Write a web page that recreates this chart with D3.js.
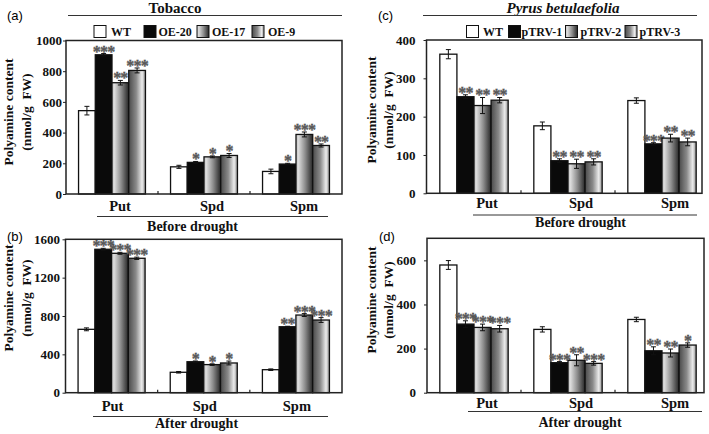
<!DOCTYPE html>
<html>
<head>
<meta charset="utf-8">
<script src="https://cdn.jsdelivr.net/npm/d3@7"></script>
<style>
  html, body { margin: 0; padding: 0; background: #fff; }
  svg { display: block; }
  text { font-family: "Liberation Serif", "Times New Roman", serif; }
</style>
</head>
<body>
<svg id="chart" width="709" height="434"></svg>
<script>
// ---------------- DATA ----------------
const categories = ["Put", "Spd", "Spm"];
const seriesTobacco = ["WT", "OE-20", "OE-17", "OE-9"];
const seriesPyrus = ["WT", "pTRV-1", "pTRV-2", "pTRV-3"];

// (a) Tobacco, before drought  [category][series]
const valuesA = [[543, 907, 725, 805], [177, 206, 242, 251], [147, 195, 388, 316]];
const errorsA = [[28, 8, 15, 16], [10, 6, 6, 13], [15, 5, 16, 10]];
const starsA  = [["", "***", "**", "***"], ["", "*", "*", "*"], ["", "*", "***", "**"]];

// (b) Tobacco, after drought
const valuesB = [[661, 1496, 1454, 1402], [213, 323, 293, 310], [240, 688, 810, 758]];
const errorsB = [[15, 10, 10, 12], [8, 8, 8, 20], [8, 5, 15, 25]];
const starsB  = [["", "***", "***", "***"], ["", "*", "*", "*"], ["", "**", "***", "***"]];

// (c) Pyrus betulaefolia, before drought
const valuesC = [[363, 252, 229, 243], [176, 85, 77, 82], [242, 129, 144, 134]];
const errorsC = [[12, 5, 21, 7], [10, 5, 12, 8], [7, 3, 10, 10]];
const starsC  = [["", "**", "**", "**"], ["", "**", "**", "**"], ["", "***", "**", "**"]];

// (d) Pyrus betulaefolia, after drought
const valuesD = [[579, 311, 296, 290], [287, 136, 147, 133], [332, 190, 180, 216]];
const errorsD = [[20, 15, 15, 15], [12, 5, 25, 8], [10, 18, 18, 10]];
const starsD  = [["", "***", "***", "***"], ["", "***", "**", "***"], ["", "**", "**", "*"]];

const ticksA = [0, 200, 400, 600, 800, 1000];
const ticksB = [0, 400, 800, 1200, 1600];
const ticksC = [0, 100, 200, 300, 400];
const ticksD = [0, 200, 400, 600];

const yAxisTitle1 = "Polyamine content";
const yAxisTitle2 = "(nmol/g\u00A0\u00A0FW)";

// ---------------- DRAWING ----------------
const svg = d3.select("#chart");
const defs = svg.append("defs");

const g1 = defs.append("linearGradient").attr("id", "gradSlope");
[[0, "#c4c4c4"], [0.15, "#dcdcdc"], [0.55, "#8c8c8c"], [1, "#262626"]]
  .forEach(([o, c]) => g1.append("stop").attr("offset", o).attr("stop-color", c));
const g2 = defs.append("linearGradient").attr("id", "gradCyl");
[[0, "#4a4a4a"], [0.45, "#8a8a8a"], [0.8, "#ececec"], [1, "#8e8e8e"]]
  .forEach(([o, c]) => g2.append("stop").attr("offset", o).attr("stop-color", c));

const fills = ["#ffffff", "#0a0a0a", "url(#gradSlope)", "url(#gradCyl)"];

const panels = [
  { letter: "(a)", lx: 7, ly: 20, values: valuesA, errors: errorsA, stars: starsA, ticks: ticksA, yMax: 1000,
    left: 66, right: 342, top: 40.5, bottom: 194, band: [66, 342], tickGap: 4,
    titleX1: 8, titleX2: 26, titleY: 112,
    catOffset: 8, catY: 211, lineX: [97, 328], lineY: 216.5, groupTitle: "Before drought", gtX: 192.5, gtY: 231 },
  { letter: "(b)", lx: 7, ly: 241, values: valuesB, errors: errorsB, stars: starsB, ticks: ticksB, yMax: 1600,
    left: 65.5, right: 342, top: 239.3, bottom: 392.7, band: [65.5, 342], tickGap: 5.5,
    titleX1: 8, titleX2: 26, titleY: 298,
    catOffset: 1, catY: 411, lineX: [93, 328], lineY: 416.5, groupTitle: "After drought", gtX: 196.5, gtY: 428 },
  { letter: "(c)", lx: 378, ly: 20, values: valuesC, errors: errorsC, stars: starsC, ticks: ticksC, yMax: 400,
    left: 426.5, right: 702, top: 40, bottom: 193.3, band: [427, 709], tickGap: 11,
    titleX1: 371, titleX2: 388, titleY: 110,
    catOffset: 13, catY: 208, lineX: [473, 697], lineY: 215, groupTitle: "Before drought", gtX: 580.5, gtY: 227 },
  { letter: "(d)", lx: 379, ly: 241, values: valuesD, errors: errorsD, stars: starsD, ticks: ticksD, yMax: 700,
    left: 427, right: 704, top: 238.3, bottom: 392.7, band: [427, 709], tickGap: 11,
    titleX1: 371, titleX2: 388, titleY: 300,
    catOffset: 13, catY: 408, lineX: [468, 702], lineY: 411.5, groupTitle: "After drought", gtX: 580, gtY: 426.5 }
];

panels.forEach((p, pi) => {
  const series = pi < 2 ? seriesTobacco : seriesPyrus;
  const g = svg.append("g");
  const y = d3.scaleLinear().domain([0, p.yMax]).range([p.bottom, p.top]);
  const x0 = d3.scaleBand().domain(categories).range(p.band).paddingInner(0).paddingOuter(0);
  const x1 = d3.scaleBand().domain(series).range([0, x0.bandwidth()]).paddingInner(0).paddingOuter(0.75);

  // panel letter
  g.append("text").attr("x", p.lx).attr("y", p.ly)
    .style("font-family", "'Liberation Sans', Arial, sans-serif").style("font-size", "13px")
    .text(p.letter);

  // y axis
  const ax = g.append("g").attr("transform", `translate(${p.left},0)`)
    .call(d3.axisLeft(y).tickValues(p.ticks).tickSize(3).tickPadding(p.tickGap - 3).tickFormat(d3.format("d")));
  ax.select(".domain").remove();
  ax.selectAll(".tick line").attr("stroke", "#222").attr("stroke-width", 1);
  ax.selectAll(".tick text").style("font-family", "'Liberation Serif', serif")
    .style("font-size", "13px").style("font-weight", "bold").attr("fill", "#111");

  // y axis titles
  [[p.titleX1, yAxisTitle1], [p.titleX2, yAxisTitle2]].forEach(([tx, t]) => {
    g.append("text").attr("transform", `translate(${tx},${p.titleY}) rotate(-90)`)
      .attr("text-anchor", "middle").attr("dominant-baseline", "central")
      .style("font-size", "13.5px").style("font-weight", "bold").attr("fill", "#111")
      .text(t);
  });

  // bars
  categories.forEach((cat, ci) => {
    const gx = x0(cat);
    series.forEach((s, si) => {
      const v = p.values[ci][si], e = p.errors[ci][si];
      const bx = gx + x1(s), bw = x1.bandwidth();
      g.append("rect").attr("x", bx).attr("y", y(v)).attr("width", bw).attr("height", y(0) - y(v))
        .attr("fill", fills[si]).attr("stroke", "#111").attr("stroke-width", 1.3);
      const cx = bx + bw / 2;
      g.append("line").attr("x1", cx).attr("x2", cx).attr("y1", y(v - e)).attr("y2", y(v + e))
        .attr("stroke", "#111").attr("stroke-width", 1);
      [v - e, v + e].forEach(val => {
        g.append("line").attr("x1", cx - 2.5).attr("x2", cx + 2.5).attr("y1", y(val)).attr("y2", y(val))
          .attr("stroke", "#111").attr("stroke-width", 1);
      });
      const st = p.stars[ci][si];
      if (st) {
        g.append("text").attr("x", cx).attr("y", y(v + e) + 3)
          .attr("text-anchor", "middle")
          .style("font-size", "16px").style("font-weight", "bold").style("letter-spacing", "-0.8px")
          .attr("fill", "#6a6a6a").attr("stroke", "#333").attr("stroke-width", 0.3)
          .text(st);
      }
    });
  });

  // box
  g.append("rect").attr("x", p.left).attr("y", p.top).attr("width", p.right - p.left).attr("height", p.bottom - p.top)
    .attr("fill", "none").attr("stroke", "#222").attr("stroke-width", 1.5);

  // category separator ticks
  categories.slice(1).forEach(cat => {
    const tx = x0(cat);
    g.append("line").attr("x1", tx).attr("x2", tx).attr("y1", p.bottom).attr("y2", p.bottom - 3)
      .attr("stroke", "#222").attr("stroke-width", 1.2);
  });

  // category labels
  categories.forEach(cat => {
    g.append("text").attr("x", x0(cat) + x0.bandwidth() / 2 + p.catOffset).attr("y", p.catY)
      .attr("text-anchor", "middle").style("font-size", "14.5px").style("font-weight", "bold").attr("fill", "#111")
      .text(cat);
  });
  g.append("line").attr("x1", p.lineX[0]).attr("x2", p.lineX[1]).attr("y1", p.lineY).attr("y2", p.lineY)
    .attr("stroke", "#333").attr("stroke-width", 1);
  g.append("text").attr("x", p.gtX).attr("y", p.gtY).attr("text-anchor", "middle")
    .style("font-size", "14px").style("font-weight", "bold").attr("fill", "#111")
    .text(p.groupTitle);
});

// ---------------- TITLES & LEGENDS ----------------
const titles = [
  { text: "Tobacco", x: 175, italic: false, line: [68, 342] },
  { text: "Pyrus betulaefolia", x: 563, italic: true, line: [423, 697] }
];
titles.forEach(t => {
  svg.append("text").attr("x", t.x).attr("y", 12.5).attr("text-anchor", "middle")
    .style("font-size", "15px").style("font-weight", "bold").style("font-style", t.italic ? "italic" : "normal")
    .attr("fill", "#111").text(t.text);
  svg.append("line").attr("x1", t.line[0]).attr("x2", t.line[1]).attr("y1", 15.5).attr("y2", 15.5)
    .attr("stroke", "#333").attr("stroke-width", 1);
});

const legends = [
  { series: seriesTobacco, sw: [94, 144, 197, 252], tx: [111, 158.5, 212, 268] },
  { series: seriesPyrus, sw: [466.5, 508.5, 565.5, 625], tx: [483, 521.5, 580.5, 639.5] }
];
legends.forEach(L => {
  L.series.forEach((s, i) => {
    svg.append("rect").attr("x", L.sw[i]).attr("y", 25.5).attr("width", 12).attr("height", 12)
      .attr("fill", fills[i]).attr("stroke", "#111").attr("stroke-width", 1);
    svg.append("text").attr("x", L.tx[i]).attr("y", 36).style("font-size", "12px").style("font-weight", "bold")
      .attr("fill", "#111").text(s);
  });
});
</script>
</body>
</html>
